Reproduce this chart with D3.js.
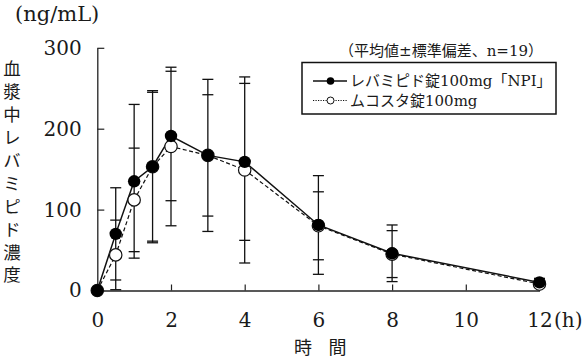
<!DOCTYPE html>
<html>
<head>
<meta charset="utf-8">
<script src="https://cdn.jsdelivr.net/npm/d3@7"></script>
<style>
  html, body { margin: 0; padding: 0; background: #fff; }
  svg { display: block; }
  text { fill: #1a1a1a; }
</style>
</head>
<body>
<svg id="chart" width="588" height="359"></svg>
<script>
// ---- data ----
const times = [0, 0.5, 1, 1.5, 2, 3, 4, 6, 8, 12];
const npiMean = [0, 70, 135, 153, 191, 167, 159, 81, 46, 10];
const npiSD   = [0, 57, 95, 94, 80, 94, 97, 61, 35, 5];
const mucMean = [0, 44, 112, 153, 178, 167, 149, 80, 45, 8];
const mucSD   = [0, 43, 64, 92, 98, 75, 115, 42, 29, 4];
const xTicks = [0, 2, 4, 6, 8, 10, 12];
const yTicks = [0, 100, 200, 300];
const seriesNames = ["レバミピド錠100mg「NPI」", "ムコスタ錠100mg"];
const yTitle = "血漿中レバミピド濃度";
const yUnit = "(ng/mL)";
const xUnit = "(h)";
const xLabelChars = ["時", "間"];
const note = "（平均値±標準偏差、n=19）";

// ---- layout ----
const svg = d3.select("#chart");
const latin = "'DejaVu Serif', 'Noto Sans CJK JP', serif";
const cjk = "'Noto Sans CJK JP', sans-serif";
const mixed = "'DejaVu Serif', 'Noto Sans CJK JP', serif";

const x = d3.scaleLinear().domain([0, 12]).range([97.3, 539.5]);
const y = d3.scaleLinear().domain([0, 300]).range([290.5, 47.8]);

// axes
const xAxis = d3.axisBottom(x).tickValues(xTicks).tickSizeInner(-6).tickSizeOuter(0).tickPadding(36.5);
const gx = svg.append("g").attr("transform", `translate(0,${y(0)})`).call(xAxis);
gx.select(".domain").attr("stroke", "#222").attr("stroke-width", 1.3);
gx.selectAll(".tick line").attr("stroke", "#222").attr("stroke-width", 1.2);
gx.selectAll(".tick text").attr("font-family", latin).attr("font-size", 20).attr("fill", "#1a1a1a").attr("dy", "0");

const yAxis = d3.axisLeft(y).tickValues(yTicks).tickSizeInner(-7).tickSizeOuter(0).tickPadding(15.5);
const gy = svg.append("g").attr("transform", `translate(${x(0)},0)`).call(yAxis);
gy.select(".domain").attr("stroke", "#222").attr("stroke-width", 1.3);
gy.selectAll(".tick line").attr("stroke", "#222").attr("stroke-width", 1.2);
gy.selectAll(".tick text").attr("font-family", latin).attr("font-size", 20).attr("fill", "#1a1a1a");

// unit labels
svg.append("text").attr("x", 15).attr("y", 21).attr("font-family", latin).attr("font-size", 21).text(yUnit);
svg.append("text").attr("x", 554).attr("y", 327).attr("font-family", latin).attr("font-size", 20).text(xUnit);

// y axis title, vertical
svg.append("text")
  .attr("x", 12).attr("y", 60)
  .attr("writing-mode", "vertical-rl")
  .attr("font-family", cjk).attr("font-size", 17.5)
  .attr("letter-spacing", 5.4)
  .text(yTitle);

// x axis title
svg.selectAll(".xlab").data(xLabelChars).enter().append("text")
  .attr("class", "xlab")
  .attr("x", (d, i) => 303 + i * 34.5).attr("y", 353.5)
  .attr("text-anchor", "middle")
  .attr("font-family", cjk).attr("font-size", 18)
  .text(d => d);

// note
svg.append("text").attr("x", 543).attr("y", 56).attr("text-anchor", "end")
  .attr("font-family", mixed).attr("font-size", 15).text(note);

// error bars
const errG = svg.append("g").attr("stroke", "#111").attr("stroke-width", 1.3).attr("fill", "none");
times.forEach((t, i) => {
  const ends = [npiMean[i] + npiSD[i], npiMean[i] - npiSD[i], mucMean[i] + mucSD[i], mucMean[i] - mucSD[i]];
  if (npiSD[i] === 0 && mucSD[i] === 0) return;
  const lo = d3.min(ends), hi = d3.max(ends);
  errG.append("line").attr("x1", x(t)).attr("x2", x(t)).attr("y1", y(lo)).attr("y2", y(hi));
  ends.forEach(v => {
    errG.append("line").attr("x1", x(t) - 5.5).attr("x2", x(t) + 5.5).attr("y1", y(v)).attr("y2", y(v));
  });
});

// lines
const line = d3.line().x((d, i) => x(times[i])).y(d => y(d));
svg.append("path").datum(mucMean).attr("d", line)
  .attr("fill", "none").attr("stroke", "#111").attr("stroke-width", 1.2).attr("stroke-dasharray", "4,2.5");
svg.append("path").datum(npiMean).attr("d", line)
  .attr("fill", "none").attr("stroke", "#111").attr("stroke-width", 1.5);

// markers
svg.selectAll(".muc").data(mucMean).enter().append("circle")
  .attr("class", "muc").attr("cx", (d, i) => x(times[i])).attr("cy", d => y(d)).attr("r", 6.2)
  .attr("fill", "#fff").attr("stroke", "#111").attr("stroke-width", 1.2);
svg.selectAll(".npi").data(npiMean).enter().append("circle")
  .attr("class", "npi").attr("cx", (d, i) => x(times[i])).attr("cy", d => y(d)).attr("r", 6.2)
  .attr("fill", "#000");

// legend
const lg = svg.append("g");
lg.append("rect").attr("x", 302).attr("y", 62.5).attr("width", 254).attr("height", 51.5)
  .attr("fill", "#fff").attr("stroke", "#111").attr("stroke-width", 1.5);
const rows = [81, 100.5];
lg.append("line").attr("x1", 313).attr("x2", 347).attr("y1", rows[0]).attr("y2", rows[0])
  .attr("stroke", "#111").attr("stroke-width", 1.3);
lg.append("circle").attr("cx", 330.5).attr("cy", rows[0]).attr("r", 3.8).attr("fill", "#000");
lg.append("line").attr("x1", 313).attr("x2", 347).attr("y1", rows[1]).attr("y2", rows[1])
  .attr("stroke", "#111").attr("stroke-width", 1).attr("stroke-dasharray", "1.2,1.3");
lg.append("circle").attr("cx", 330.5).attr("cy", rows[1]).attr("r", 3.5).attr("fill", "#fff")
  .attr("stroke", "#111").attr("stroke-width", 1);
seriesNames.forEach((n, i) => {
  lg.append("text").attr("x", 350).attr("y", rows[i]).attr("dy", "0.36em")
    .attr("font-family", mixed).attr("font-size", 15).text(n);
});
</script>
</body>
</html>
